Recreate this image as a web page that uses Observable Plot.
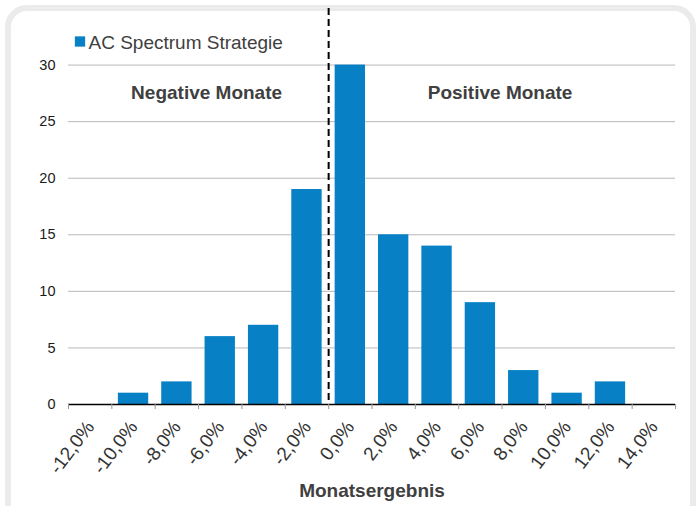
<!DOCTYPE html>
<html><head><meta charset="utf-8">
<script src="https://cdn.jsdelivr.net/npm/d3@7"></script>
<script src="https://cdn.jsdelivr.net/npm/@observablehq/plot@0.6"></script>
<style>
body{margin:0;background:#fff;font-family:"Liberation Sans",Arial,sans-serif;}
#wrap{position:relative;width:696px;height:506px;overflow:hidden;background:#fff;}
#frame{position:absolute;left:5px;top:5px;width:691px;height:530px;border:6px solid #ebebeb;border-radius:22px;box-sizing:border-box;}
#chart{position:absolute;left:0;top:0;}
</style></head>
<body>
<div id="wrap"><div id="frame"></div><div id="chart"></div></div>
<script>
const returns = [-12, -10, -8, -6, -4, -2, 0, 2, 4, 6, 8, 10, 12, 14];
const counts  = [0, 1, 2, 6, 7, 19, 30, 15, 14, 9, 3, 1, 2, 0];
const yTicks  = [0, 5, 10, 15, 20, 25, 30];
const yMax = 35;
const binWidth = 2;
const seriesName = "AC Spectrum Strategie";
const regionLabels = ["Negative Monate", "Positive Monate"];
const xTitle = "Monatsergebnis";

const data = returns.map((r, i) => ({ret: r, count: counts[i]}));
const boundaries = returns.map(r => r - binWidth / 2).concat([returns[returns.length - 1] + binWidth / 2]);
const xMin = boundaries[0], xMax = boundaries[boundaries.length - 1];
const split = 0 - binWidth / 2;
const negRegion = [{label: regionLabels[0], mid: (xMin + split) / 2}];
const posRegion = [{label: regionLabels[1], mid: (split + xMax) / 2}];
const fmt = v => v.toFixed(1).replace(".", ",") + "%";
const blue = "#0780c6";
const regionStyle = {x: "mid", text: "label", frameAnchor: "top", lineAnchor: "middle", dy: 84, fontWeight: "bold", fontSize: 19, fill: "#404040"};

const chart = Plot.plot({
  width: 696, height: 506,
  marginTop: 8, marginBottom: 102, marginLeft: 68, marginRight: 21,
  style: {fontFamily: "'Liberation Sans', Arial, sans-serif", fontSize: "14.5px", color: "#1a1a1a", background: "transparent", overflow: "visible"},
  x: {domain: [xMin, xMax]},
  y: {domain: [0, yMax]},
  marks: [
    Plot.ruleY(yTicks.filter(d => d > 0), {stroke: "#b8b8b8", strokeWidth: 1}),
    Plot.rectY(data, {x1: d => d.ret - binWidth / 2, x2: d => d.ret + binWidth / 2, y: "count", fill: blue, insetLeft: 6.5, insetRight: 6.5}),
    Plot.ruleY([0], {stroke: "#000", strokeWidth: 1.3}),
    Plot.ruleX([split], {stroke: "#000", strokeWidth: 2, strokeDasharray: "7,4"}),
    Plot.axisY({ticks: yTicks, tickSize: 0, tickPadding: 13, label: null, fontSize: 14.5}),
    Plot.axisX({ticks: boundaries, tickSize: 5, tickFormat: () => "", stroke: "#999", label: null}),
    Plot.axisX({ticks: returns, tickSize: 0, tickRotate: -53, tickPadding: 19, tickFormat: fmt, label: null, fontSize: 19, fill: "#333"}),
    Plot.text(negRegion, {...regionStyle, dx: 8}),
    Plot.text(posRegion, {...regionStyle, dx: -2}),
    Plot.text([xTitle], {frameAnchor: "bottom", lineAnchor: "middle", dy: 86, fontWeight: "bold", fontSize: 19, fill: "#404040"}),
    Plot.dot([seriesName], {frameAnchor: "top-left", dx: 11.5, dy: 33, symbol: "square", r: 5.8, fill: blue, stroke: null}),
    Plot.text([seriesName], {frameAnchor: "top-left", lineAnchor: "middle", dx: 20, dy: 34, textAnchor: "start", fontSize: 19, fill: "#404040"})
  ]
});
document.getElementById("chart").appendChild(chart);
</script>
</body></html>
